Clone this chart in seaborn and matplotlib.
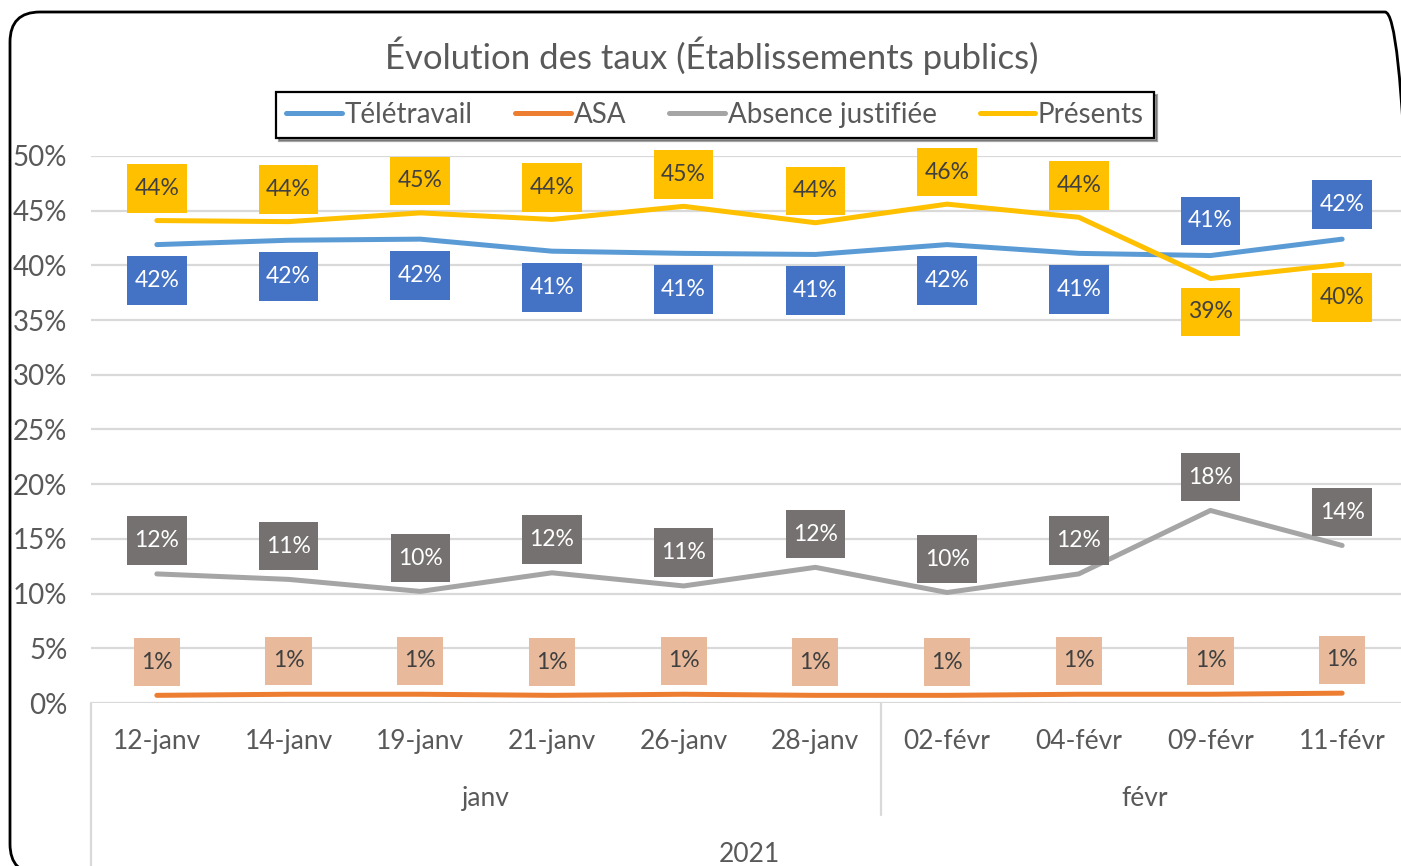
import numpy as np
import pandas as pd
import matplotlib
matplotlib.use('Agg')
import matplotlib.pyplot as plt
import matplotlib.transforms as mtransforms
from matplotlib.patches import FancyBboxPatch
from matplotlib.lines import Line2D
from matplotlib.path import Path
import seaborn as sns

# ------------------ donnees (en %)
dates = ['12-janv', '14-janv', '19-janv', '21-janv', '26-janv', '28-janv',
         '02-févr', '04-févr', '09-févr', '11-févr']
mois = ['janv', 'janv', 'janv', 'janv', 'janv', 'janv',
        'févr', 'févr', 'févr', 'févr']
annee = '2021'
teletravail = [41.9, 42.3, 42.4, 41.3, 41.1, 41.0, 41.9, 41.1, 40.9, 42.4]
asa = [0.7, 0.8, 0.8, 0.7, 0.8, 0.7, 0.7, 0.8, 0.8, 0.9]
absence = [11.8, 11.3, 10.2, 11.9, 10.7, 12.4, 10.1, 11.8, 17.6, 14.4]
presents = [44.1, 44.0, 44.8, 44.2, 45.4, 43.9, 45.6, 44.4, 38.8, 40.1]
series = ['Télétravail', 'ASA', 'Absence justifiée', 'Présents']

couleurs = {'Télétravail': '#5B9BD5', 'ASA': '#ED7D31',
            'Absence justifiée': '#A5A5A5', 'Présents': '#FFC000'}
etiquettes = {'Télétravail': ('#4472C4', 'white'), 'ASA': ('#E8B99A', '#404040'),
              'Absence justifiée': ('#767171', 'white'), 'Présents': ('#FFC000', '#404040')}

valeurs = {'Télétravail': teletravail, 'ASA': asa,
           'Absence justifiée': absence, 'Présents': presents}
dane = pd.DataFrame([
    {'date': d, 'serie': s, 'valeur': valeurs[s][i]}
    for s in series for i, d in enumerate(dates)
])


def boite_etiquette(x0, y0, width, height, mutation_size):
    # rectangle avec plus de marge verticale qu'horizontale (comme Excel)
    px, py = 0.32 * mutation_size, 0.6 * mutation_size
    x0, y0 = x0 - px, y0 - py
    x1, y1 = x0 + width + 2 * px, y0 + height + 2 * py
    return Path([(x0, y0), (x1, y0), (x1, y1), (x0, y1), (x0, y0)], closed=True)


sns.set_style('white')
plt.rcParams['font.family'] = ['Lato', 'DejaVu Sans']
gris = '#595959'

fig = plt.figure(figsize=(14.01, 8.66), dpi=100)
ax = fig.add_axes([91 / 1401, 163 / 866, 1317 / 1401, 547 / 866])

sns.lineplot(data=dane, x='date', y='valeur', hue='serie', hue_order=series,
             palette=couleurs, linewidth=3.6, sort=False, legend=False, ax=ax)
for l in ax.lines:
    l.set_solid_capstyle('round')

ax.set_xlim(-0.5, len(dates) - 0.5)
ax.set_ylim(0, 50)
ax.set_yticks(np.arange(0, 51, 5))
ax.set_yticklabels([f'{v}%' for v in range(0, 51, 5)])
ax.yaxis.grid(True, color='#D9D9D9', linewidth=1.6)
ax.xaxis.grid(False)
sns.despine(ax=ax, left=True, bottom=True)
ax.tick_params(axis='y', length=0, pad=17, labelsize=20, labelcolor=gris)
ax.tick_params(axis='x', length=0, pad=19, labelsize=19, labelcolor=gris)
ax.set_xlabel('')
ax.set_ylabel('')

# etiquettes de donnees
for s in series:
    fc, tc = etiquettes[s]
    for i, v in enumerate(valeurs[s]):
        if s == 'Télétravail':
            dy = 25 if teletravail[i] > presents[i] else -26
        elif s == 'Présents':
            dy = 23 if presents[i] > teletravail[i] else -24
        else:
            dy = 24
        ax.annotate(f'{v:.0f}%', (i, v), xytext=(0, dy), textcoords='offset points',
                    ha='center', va='center', fontsize=16.5, color=tc,
                    bbox=dict(boxstyle=boite_etiquette, fc=fc, ec='none'))

# axe multi-niveaux
tr = mtransforms.blended_transform_factory(ax.transData, ax.transAxes)
groupes = pd.Series(range(len(dates))).groupby(pd.Series(mois), sort=False)
for m, idx in groupes:
    ax.text(idx.mean(), -0.174, m, transform=tr, ha='center', va='center',
            fontsize=19, color=gris)
ax.text((len(dates) - 1) / 2, -0.277, annee, transform=tr, ha='center',
        va='center', fontsize=19, color=gris)
ax.plot([-0.5, -0.5], [0, -0.32], transform=tr, color='#D9D9D9', lw=1.6, clip_on=False)
fin_janv = mois.count('janv') - 0.5
ax.plot([fin_janv, fin_janv], [0, -0.205], transform=tr, color='#D9D9D9', lw=1.6, clip_on=False)

# legende
poignees = [Line2D([], [], color=couleurs[s], lw=3.6, solid_capstyle='round') for s in series]
leg = fig.legend(poignees, series, loc='center', bbox_to_anchor=(715 / 1401, 1 - 115 / 866),
                 ncol=4, frameon=True, fancybox=False, shadow=True, fontsize=20,
                 handlelength=2.0, handletextpad=0.1, columnspacing=1.55,
                 borderpad=0.35, labelcolor=gris)
leg.get_frame().set_edgecolor('black')
leg.get_frame().set_linewidth(1.6)

fig.suptitle('Évolution des taux (Établissements publics)', x=712 / 1401, y=1 - 56 / 866,
             va='center', fontsize=25, color=gris)

# cadre arrondi (en pouces), qui deborde a droite et en bas
cadre = FancyBboxPatch((0.10, -0.08), 14.05, 8.62, boxstyle='round,pad=0,rounding_size=0.3',
                       transform=fig.dpi_scale_trans, fill=False,
                       edgecolor='black', linewidth=2, clip_on=False)
fig.add_artist(cadre)

plt.savefig('out.png', dpi=100)
plt.close()
